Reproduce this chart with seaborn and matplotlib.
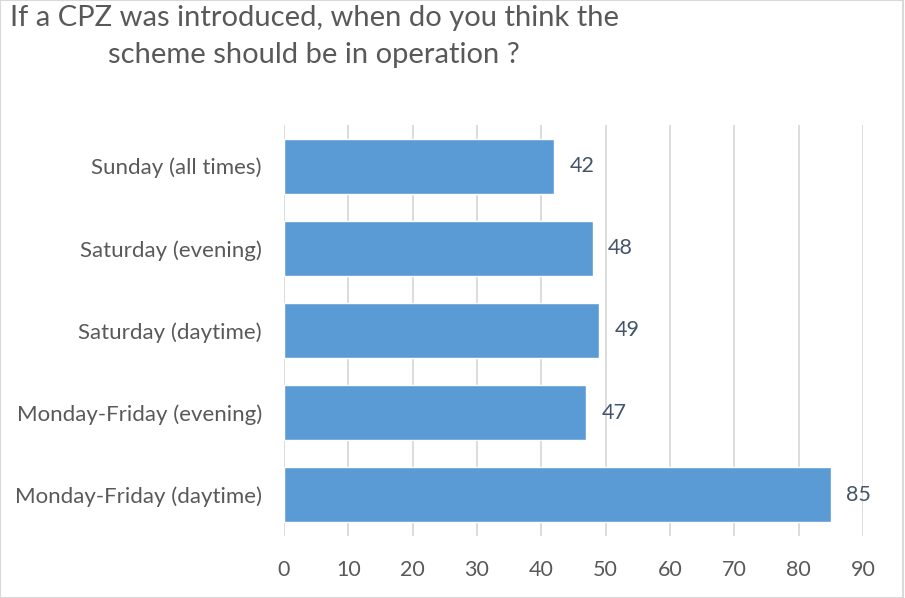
import matplotlib
matplotlib.use("Agg")
import matplotlib.pyplot as plt
import seaborn as sns
import pandas as pd
from matplotlib.patches import Rectangle

categories = ["Sunday (all times)", "Saturday (evening)", "Saturday (daytime)",
              "Monday-Friday (evening)", "Monday-Friday (daytime)"]
values = [42, 48, 49, 47, 85]
xticks = [0, 10, 20, 30, 40, 50, 60, 70, 80, 90]

df = pd.DataFrame({"category": categories, "value": values})

sns.set_theme(style="white")
plt.rcParams['font.family'] = ['Lato', 'DejaVu Sans']

fig = plt.figure(figsize=(9.05, 5.98), dpi=100)
ax = fig.add_axes([284/905, (598-536)/598, 579/905, 411/598])

sns.barplot(data=df, y="category", x="value", orient="h", color="#5B9BD5",
            width=0.67, saturation=1, ax=ax, zorder=3)

ax.set_xlim(0, 90)
ax.set_ylim(4.5, -0.5)
ax.set_xticks(xticks)
ax.set_xticklabels([str(t) for t in xticks])
ax.xaxis.grid(True, color="#D9D9D9", linewidth=1.3, zorder=0)
ax.set_axisbelow(True)
for s in ax.spines.values():
    s.set_visible(False)
ax.set_xlabel("")
ax.set_ylabel("")
ax.tick_params(axis="x", length=0, pad=17, labelsize=15.5, labelcolor="#595959")
ax.tick_params(axis="y", length=0, pad=16, labelsize=16, labelcolor="#595959")

for c in ax.containers:
    ax.bar_label(c, padding=11, fontsize=15.5, color="#44546A")

fig.text(314/905, 1 - 18/598, "If a CPZ was introduced, when do you think the",
         ha="center", va="center", fontsize=21, color="#595959")
fig.text(314/905, 1 - 55/598, "scheme should be in operation ?",
         ha="center", va="center", fontsize=21, color="#595959")

fig.patches.append(Rectangle((0.0, 0.0), 1 - 2/905, 1, transform=fig.transFigure,
                             fill=False, edgecolor="#D9D9D9", linewidth=1.5, zorder=10))

fig.savefig("out.png", dpi=100)
